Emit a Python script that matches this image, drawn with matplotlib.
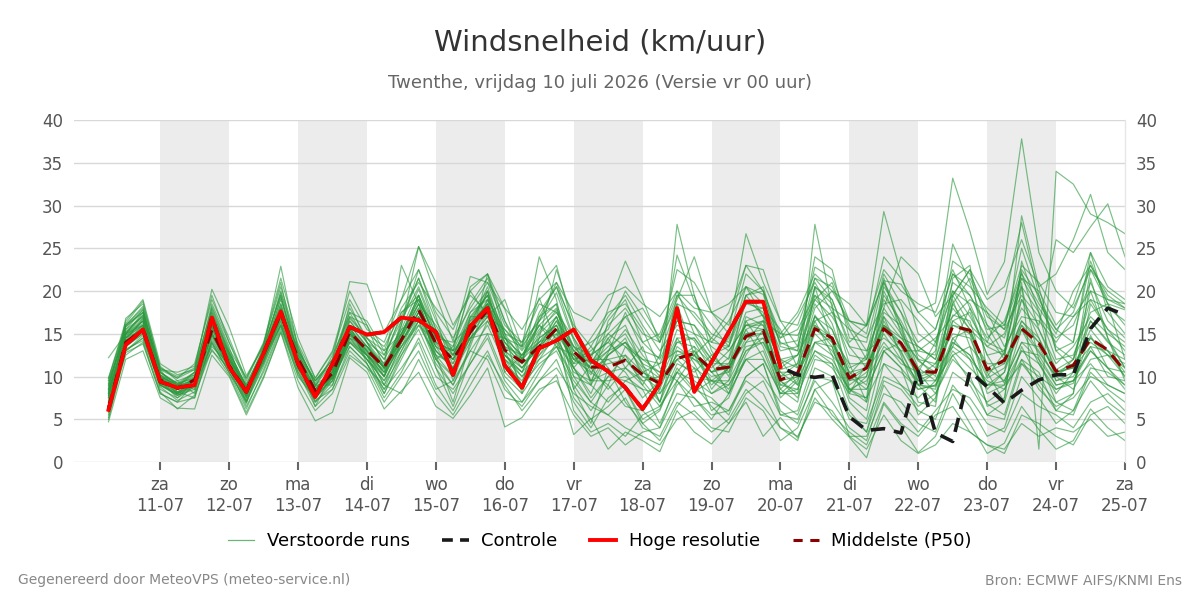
import matplotlib
matplotlib.use("Agg")
import matplotlib.pyplot as plt
import pandas as pd
from matplotlib.lines import Line2D

# ---------------- data ----------------
start_time = "2026-07-10 06:00"
n_points = 60
day_names = ["za", "zo", "ma", "di", "wo", "do", "vr", "za", "zo", "ma", "di", "wo", "do", "vr", "za"]
day_dates = ["11-07", "12-07", "13-07", "14-07", "15-07", "16-07", "17-07", "18-07",
             "19-07", "20-07", "21-07", "22-07", "23-07", "24-07", "25-07"]
shaded_days = ["2026-07-11", "2026-07-13", "2026-07-15", "2026-07-17",
               "2026-07-19", "2026-07-21", "2026-07-23"]

hoge_resolutie = [6.1, 13.7, 15.5, 9.4, 8.7, 9.0, 16.9, 11.1, 8.2, 12.7, 17.6, 11.5, 7.6, 11.5,
                  15.8, 14.9, 15.2, 16.9, 16.6, 15.2, 10.2, 15.9, 18.0, 11.3, 8.7, 13.3, 14.2,
                  15.5, 11.9, 10.6, 8.7, 6.2, 9.2, 18.0, 8.2, 11.7, 15.2, 18.75, 18.75, 11.1]

controle = [6.1, 13.7, 15.5, 9.4, 8.7, 9.0, 16.9, 11.1, 8.2, 12.7, 17.6, 11.5, 7.6, 11.5,
            15.8, 14.9, 15.2, 16.9, 16.6, 15.2, 10.2, 15.9, 18.0, 11.3, 8.7, 13.3, 14.2,
            15.5, 11.9, 10.6, 8.7, 6.2, 9.2, 18.0, 8.2, 11.7, 15.2, 18.75, 18.75, 11.1,
            10.2, 9.9, 10.2, 5.3, 3.7, 3.9, 3.4, 10.6, 3.4, 2.4, 10.6, 8.8, 6.9, 8.4,
            9.6, 10.2, 10.2, 15.6, 18.0, 17.2]

p50 = [6.3, 14.0, 15.5, 9.6, 8.6, 9.6, 15.4, 11.3, 8.3, 12.7, 17.4, 12.1, 8.3, 10.4, 15.2,
       13.1, 11.1, 14.3, 17.8, 13.9, 12.0, 15.2, 17.8, 13.1, 11.7, 13.5, 15.6, 12.9, 11.1,
       11.1, 11.9, 10.2, 9.2, 12.1, 12.7, 10.8, 11.1, 14.7, 15.4, 9.6, 10.4, 15.6, 14.5,
       9.8, 11.0, 15.6, 13.9, 10.6, 10.5, 15.9, 15.4, 10.8, 11.9, 15.6, 13.9, 10.6, 11.3,
       14.4, 13.1, 10.6]

m01 = [9.8, 16.5, 19.0, 11.5, 10.2, 10.8, 20.2, 15.8, 10.1, 13.5, 22.9, 13.2, 9.2, 12.0, 21.1,
       20.8, 15.2, 19.0, 25.2, 19.5, 14.1, 21.7, 21.0, 17.9, 12.0, 16.5, 19.8, 14.2, 9.5, 12.8, 17.5,
       13.0, 12.2, 24.2, 18.8, 16.0, 13.5, 20.5, 19.6, 13.8, 14.2, 22.8, 21.5, 16.5, 15.9, 21.2, 20.8,
       17.5, 18.6, 33.2, 27.0, 19.6, 23.4, 37.8, 24.5, 20.0, 18.0, 22.5, 20.0, 18.5]
m02 = [4.7, 12.0, 13.0, 7.5, 6.3, 6.2, 12.5, 10.0, 5.5, 9.8, 15.2, 8.7, 4.8, 5.8, 12.2,
       10.5, 6.2, 8.3, 10.5, 6.5, 5.1, 7.8, 11.0, 4.1, 5.2, 8.0, 10.2, 3.2, 5.1, 1.5, 3.5,
       2.5, 1.2, 6.0, 3.5, 2.1, 4.5, 7.0, 3.0, 5.2, 2.8, 7.5, 5.0, 2.9, 0.5, 6.8, 4.2,
       1.1, 3.0, 8.0, 4.5, 1.0, 2.2, 6.5, 3.8, 1.5, 2.5, 6.2, 4.0, 2.5]
m03 = [8.5, 15.2, 17.2, 10.5, 9.0, 10.2, 17.5, 13.0, 8.8, 12.5, 19.2, 12.8, 8.5, 11.0, 16.8,
       14.5, 12.0, 15.5, 20.2, 15.0, 11.5, 16.8, 19.5, 14.0, 11.8, 15.2, 17.8, 12.5, 10.2, 14.5, 16.0,
       11.2, 9.8, 15.5, 14.2, 10.5, 12.2, 18.8, 17.5, 10.8, 11.5, 19.5, 16.2, 10.2, 12.5, 21.5, 15.0,
       11.8, 10.5, 17.2, 16.5, 10.0, 12.8, 22.2, 15.5, 10.8, 12.0, 16.5, 14.2, 11.0]
m04 = [7.0, 13.0, 14.5, 9.0, 7.8, 8.5, 14.0, 10.5, 7.2, 11.8, 16.5, 10.8, 7.0, 9.5, 14.0,
       12.0, 9.5, 13.0, 17.0, 12.0, 13.5, 18.5, 21.5, 16.5, 13.2, 17.0, 20.5, 16.0, 13.5, 11.0, 8.5,
       5.0, 6.2, 10.5, 8.2, 9.5, 11.0, 15.5, 12.2, 8.0, 9.8, 17.2, 14.0, 8.2, 10.0, 16.5, 12.8,
       9.0, 8.8, 13.5, 18.0, 12.5, 9.2, 13.0, 11.5, 8.5, 9.2, 14.8, 11.0, 8.5]
m05 = [6.0, 14.0, 16.0, 9.5, 8.5, 9.0, 15.0, 11.5, 8.0, 12.8, 17.8, 11.0, 8.0, 10.0, 15.5,
       13.0, 10.5, 14.5, 18.5, 13.8, 12.0, 15.5, 18.0, 12.5, 10.0, 13.0, 16.5, 13.5, 11.0, 8.5, 11.0,
       13.5, 8.0, 12.0, 13.5, 11.5, 8.0, 14.0, 16.5, 9.0, 10.0, 15.0, 13.0, 9.5, 11.0, 16.0, 13.5,
       10.0, 11.5, 15.0, 14.5, 9.8, 11.0, 15.5, 12.8, 10.0, 11.5, 14.0, 12.5, 10.0]
m06 = [5.5, 16.8, 18.5, 11.0, 9.8, 11.5, 19.0, 14.5, 9.5, 13.8, 21.0, 12.0, 6.5, 10.5, 18.5,
       14.0, 11.0, 16.0, 22.5, 17.0, 10.5, 14.0, 22.0, 15.0, 8.0, 14.5, 22.5, 16.5, 9.0, 16.5, 19.0,
       14.0, 15.0, 20.0, 15.0, 12.0, 14.5, 22.0, 20.0, 12.0, 9.0, 27.8, 18.0, 11.5, 7.0, 20.0, 16.0,
       11.0, 13.0, 25.5, 21.0, 15.0, 12.0, 28.8, 20.5, 13.0, 14.0, 24.5, 17.5, 15.0]
m07 = [9.2, 15.5, 17.8, 10.0, 8.0, 9.8, 16.2, 12.0, 9.0, 12.0, 18.0, 12.5, 9.5, 11.5, 16.0,
       15.0, 13.5, 17.5, 19.0, 14.5, 14.0, 16.0, 18.5, 14.5, 13.5, 19.2, 14.0, 11.0, 7.5, 10.0, 9.5,
       8.5, 4.5, 9.0, 11.0, 6.0, 7.5, 12.5, 15.5, 7.5, 9.5, 14.0, 12.5, 7.0, 5.0, 13.0, 11.0,
       5.5, 7.5, 14.5, 12.0, 6.8, 5.5, 12.0, 10.5, 6.0, 8.0, 18.5, 15.5, 14.0]
m08 = [7.8, 14.5, 16.5, 9.0, 9.5, 8.0, 15.8, 11.0, 6.8, 13.0, 17.0, 13.5, 9.0, 9.0, 14.5,
       12.5, 8.0, 12.0, 16.0, 12.5, 10.0, 17.0, 19.5, 10.5, 12.5, 14.0, 17.0, 12.0, 12.5, 14.0, 12.0,
       9.5, 7.0, 11.5, 10.5, 12.5, 10.5, 16.5, 17.2, 12.0, 12.5, 16.5, 17.5, 12.5, 12.0, 19.0, 15.5,
       10.5, 14.0, 20.0, 17.0, 13.5, 15.0, 20.5, 17.5, 12.0, 12.5, 17.5, 18.5, 17.8]
m09 = [8.2, 13.5, 15.0, 8.5, 7.5, 9.5, 13.5, 11.5, 7.8, 12.0, 16.0, 10.0, 7.5, 9.8, 13.5,
       11.5, 7.5, 10.5, 14.5, 10.0, 8.5, 11.5, 14.5, 9.5, 7.0, 10.5, 14.0, 7.5, 5.0, 6.5, 8.5,
       4.5, 2.5, 6.5, 9.0, 6.5, 4.5, 8.0, 9.5, 5.5, 5.0, 9.5, 7.0, 4.0, 2.5, 9.0, 6.0,
       3.5, 6.0, 8.5, 7.5, 4.5, 3.5, 8.0, 6.5, 5.5, 4.0, 7.0, 8.0, 6.0]
m10 = [9.5, 15.0, 16.0, 10.2, 8.8, 10.5, 16.5, 12.5, 8.5, 13.0, 18.5, 11.5, 7.8, 10.5, 16.0,
       13.5, 11.5, 14.0, 17.5, 13.0, 11.0, 15.8, 20.0, 13.5, 12.5, 14.5, 16.0, 11.5, 14.5, 17.5, 18.5,
       15.5, 11.0, 9.5, 12.5, 14.5, 13.0, 16.0, 16.5, 15.0, 14.8, 19.0, 17.0, 13.5, 13.0, 14.5, 13.0,
       13.0, 14.5, 17.0, 19.0, 17.5, 13.5, 17.0, 16.5, 14.0, 17.0, 19.0, 18.0, 16.5]
m11 = [6.8, 13.8, 15.8, 10.8, 8.2, 7.5, 14.5, 10.8, 8.0, 12.2, 16.8, 12.5, 7.0, 9.0, 15.0,
       12.8, 10.0, 16.0, 25.2, 21.0, 16.0, 19.5, 17.5, 12.0, 10.0, 12.0, 13.5, 10.0, 7.0, 10.0, 12.5,
       9.0, 6.5, 10.5, 13.0, 9.5, 9.0, 13.0, 14.5, 9.5, 10.0, 16.5, 12.5, 10.0, 8.5, 13.0, 14.0,
       11.0, 9.5, 14.0, 12.5, 9.0, 10.5, 16.0, 13.0, 10.0, 8.5, 12.0, 12.5, 11.5]
m12 = [8.8, 16.0, 18.0, 10.5, 9.2, 8.5, 18.2, 13.5, 7.5, 13.5, 19.5, 11.2, 8.8, 12.5, 17.0,
       16.0, 12.5, 17.0, 21.5, 16.5, 13.0, 20.5, 22.0, 16.5, 12.0, 17.5, 20.5, 14.5, 11.5, 13.0, 15.5,
       12.5, 10.0, 19.5, 19.5, 14.0, 13.5, 19.5, 20.5, 13.5, 13.0, 24.0, 22.5, 14.5, 14.0, 22.0, 18.5,
       13.0, 12.5, 23.5, 22.0, 17.5, 15.5, 25.0, 19.0, 15.5, 14.0, 23.5, 18.5, 16.0]
m13 = [7.2, 14.2, 16.8, 9.8, 8.0, 10.0, 16.0, 11.8, 8.2, 11.5, 17.2, 12.0, 8.0, 10.8, 15.8,
       12.5, 9.0, 14.0, 18.0, 12.5, 7.0, 14.0, 17.5, 10.5, 8.5, 12.0, 15.0, 6.0, 3.5, 4.5, 3.0,
       5.5, 6.5, 9.5, 7.5, 5.0, 8.0, 12.0, 10.0, 7.0, 5.5, 11.0, 10.0, 5.0, 4.5, 10.0, 9.0,
       6.5, 8.0, 12.0, 10.0, 5.5, 7.0, 13.5, 9.5, 7.0, 6.0, 11.0, 10.5, 9.0]
m14 = [6.5, 15.8, 17.5, 11.0, 10.0, 11.0, 17.8, 12.8, 9.0, 13.2, 19.8, 13.0, 9.5, 12.0, 18.0,
       14.5, 13.0, 15.0, 19.5, 14.0, 13.0, 17.5, 19.0, 15.5, 13.5, 16.5, 18.5, 13.0, 14.0, 15.5, 20.0,
       17.0, 14.0, 22.5, 21.0, 17.5, 16.0, 23.0, 22.5, 16.5, 16.0, 21.5, 20.5, 16.0, 13.0, 18.0, 24.0,
       22.0, 17.0, 19.5, 22.5, 19.0, 20.5, 26.0, 20.5, 22.0, 26.0, 31.3, 24.5, 22.5]
m15 = [6.2, 12.5, 14.0, 8.0, 7.0, 9.2, 13.0, 11.0, 6.5, 10.5, 15.5, 10.2, 7.2, 8.5, 13.0,
       11.0, 9.0, 12.5, 16.5, 11.5, 9.0, 13.0, 16.0, 11.5, 9.5, 13.5, 16.5, 12.0, 10.5, 9.0, 6.5,
       6.0, 8.5, 13.5, 12.0, 10.0, 10.5, 14.5, 15.0, 9.0, 8.5, 15.5, 14.5, 9.0, 10.5, 14.0, 11.5,
       10.5, 8.0, 12.5, 13.5, 11.0, 9.5, 14.0, 13.5, 9.5, 10.0, 13.0, 11.0, 10.5]
m16 = [8.0, 14.8, 16.2, 9.2, 8.8, 9.8, 15.2, 11.2, 8.5, 12.5, 17.5, 11.8, 8.5, 10.0, 15.2,
       13.2, 11.0, 14.8, 19.0, 14.5, 11.0, 15.0, 18.5, 12.5, 11.0, 13.5, 17.0, 13.0, 11.5, 13.5, 15.0,
       11.5, 10.5, 14.5, 14.5, 12.0, 11.0, 15.5, 16.5, 11.5, 12.5, 18.5, 15.5, 10.5, 9.0, 17.5, 16.0,
       13.5, 12.0, 19.5, 16.0, 14.0, 19.0, 28.0, 19.5, 13.0, 11.0, 15.5, 13.0, 12.0]
m17 = [5.0, 13.2, 14.2, 8.2, 6.2, 7.8, 13.2, 10.2, 5.8, 10.0, 15.2, 9.5, 6.0, 8.0, 12.5,
       11.0, 7.0, 10.0, 13.0, 8.5, 9.5, 13.0, 12.0, 7.5, 7.0, 9.5, 11.0, 8.0, 6.5, 5.5, 4.0,
       3.0, 2.0, 5.0, 6.0, 4.0, 3.5, 7.5, 6.0, 2.5, 4.0, 8.5, 5.5, 3.5, 2.0, 7.0, 4.5,
       3.0, 5.5, 6.5, 3.5, 2.0, 1.0, 5.5, 4.5, 3.0, 2.0, 5.5, 6.5, 4.5]
m18 = [9.0, 15.2, 17.0, 10.0, 9.0, 10.0, 17.0, 12.5, 8.0, 12.8, 18.2, 12.0, 8.2, 11.0, 16.5,
       14.0, 12.5, 16.5, 20.5, 15.5, 13.0, 15.5, 19.0, 15.0, 14.0, 18.5, 17.5, 14.5, 10.5, 12.5, 14.0,
       10.5, 11.5, 16.5, 16.0, 13.5, 12.0, 17.5, 18.0, 15.5, 11.0, 18.0, 20.0, 18.5, 16.0, 21.0, 17.5,
       14.0, 15.5, 22.0, 19.5, 16.0, 14.5, 21.5, 18.0, 15.0, 20.0, 23.0, 19.5, 18.0]
m19 = [7.5, 14.0, 15.2, 9.5, 7.5, 8.8, 14.8, 11.5, 7.0, 11.2, 16.2, 11.5, 7.5, 9.8, 14.8,
       13.5, 11.2, 23.0, 18.5, 16.0, 12.5, 17.0, 17.0, 19.0, 13.5, 24.0, 19.0, 10.0, 9.0, 12.5, 14.5,
       10.0, 8.5, 27.8, 19.5, 13.0, 10.0, 17.0, 16.0, 10.0, 11.5, 20.5, 14.0, 9.5, 10.0, 18.0, 15.0,
       9.5, 10.5, 18.5, 15.5, 8.5, 10.5, 19.0, 14.5, 10.0, 12.0, 20.0, 14.5, 11.0]
m20 = [8.2, 15.0, 16.5, 9.5, 8.5, 9.5, 15.8, 12.0, 8.8, 13.2, 17.8, 11.0, 8.0, 10.5, 15.5,
       12.0, 10.0, 14.5, 19.5, 11.0, 6.5, 12.0, 16.5, 13.0, 9.0, 12.5, 15.5, 8.5, 4.5, 11.0, 7.0,
       4.5, 6.0, 11.0, 8.5, 7.5, 5.5, 10.0, 11.5, 5.5, 6.0, 12.0, 11.5, 6.0, 3.5, 11.5, 9.0,
       7.5, 9.5, 12.5, 9.5, 7.0, 8.5, 12.0, 8.5, 6.5, 7.5, 10.0, 9.0, 8.0]
m21 = [9.8, 16.0, 17.5, 10.8, 9.8, 10.8, 18.0, 13.2, 9.8, 13.8, 20.5, 13.8, 9.8, 12.8, 19.0,
       15.5, 14.0, 19.0, 22.5, 17.5, 14.5, 18.0, 21.0, 16.0, 14.0, 16.5, 21.0, 15.5, 12.5, 16.0, 18.0,
       15.0, 14.0, 18.5, 17.5, 15.0, 14.0, 19.5, 20.0, 14.5, 17.0, 21.0, 17.5, 15.5, 14.5, 18.5, 19.0,
       16.5, 14.0, 21.0, 19.5, 15.5, 16.0, 23.0, 21.0, 17.5, 17.0, 20.0, 19.0, 18.5]
m22 = [7.0, 13.5, 15.0, 9.0, 8.0, 9.0, 14.8, 11.0, 7.5, 12.0, 16.5, 11.0, 7.5, 9.5, 14.0,
       12.0, 9.5, 13.5, 17.5, 13.5, 10.5, 14.5, 17.0, 12.0, 10.5, 14.5, 16.0, 11.0, 8.0, 12.5, 14.0,
       11.5, 7.0, 13.0, 12.5, 10.5, 8.5, 13.0, 14.0, 9.5, 7.5, 14.0, 14.5, 8.5, 7.0, 15.5, 13.0,
       9.0, 8.5, 16.5, 15.0, 8.0, 9.0, 15.5, 11.5, 8.0, 10.5, 16.5, 14.0, 12.5]
m23 = [6.5, 14.5, 16.0, 10.0, 9.0, 9.5, 16.8, 12.2, 8.2, 12.2, 17.5, 12.2, 8.8, 10.0, 15.0,
       13.0, 10.5, 15.5, 17.0, 13.5, 12.5, 16.5, 18.0, 13.5, 11.5, 13.0, 15.5, 11.5, 12.0, 12.0, 10.5,
       7.5, 9.5, 14.0, 13.5, 8.5, 11.0, 15.0, 15.5, 8.5, 10.5, 14.0, 13.5, 8.0, 11.5, 15.0, 12.0,
       9.5, 9.5, 14.5, 15.5, 10.5, 11.5, 16.5, 14.0, 10.5, 11.0, 13.5, 10.0, 9.5]
m24 = [8.0, 14.5, 15.5, 9.8, 8.2, 9.5, 15.5, 11.8, 7.8, 12.0, 17.0, 11.5, 8.0, 10.2, 15.0,
       13.0, 9.0, 8.0, 12.0, 8.0, 5.5, 9.0, 12.5, 9.0, 6.0, 8.5, 9.5, 5.5, 3.0, 4.0, 2.0,
       3.5, 4.0, 9.5, 6.5, 7.0, 6.0, 9.5, 8.0, 4.0, 2.5, 8.5, 9.5, 3.0, 3.0, 8.0, 7.0,
       4.5, 3.5, 9.0, 6.5, 3.0, 4.0, 10.0, 7.5, 4.5, 6.0, 9.5, 7.0, 5.5]
m25 = [7.5, 15.5, 17.0, 10.2, 8.5, 9.8, 16.5, 12.2, 8.5, 12.5, 18.5, 12.8, 9.0, 10.5, 16.5,
       14.0, 11.5, 15.0, 19.5, 14.5, 12.0, 17.5, 20.0, 15.0, 12.0, 16.0, 18.0, 13.5, 12.5, 14.0, 17.0,
       18.0, 14.5, 19.5, 17.0, 14.5, 17.5, 23.0, 20.0, 15.0, 17.5, 22.0, 20.0, 16.5, 15.0, 24.0, 21.5,
       17.5, 15.5, 22.0, 20.5, 18.0, 16.0, 21.5, 20.0, 16.0, 18.5, 24.5, 20.5, 19.0]
m26 = [8.5, 14.2, 15.8, 9.2, 7.8, 9.0, 15.0, 11.2, 7.8, 12.5, 17.0, 12.0, 8.0, 9.5, 15.2,
       12.5, 10.8, 14.5, 18.0, 12.5, 11.5, 15.0, 17.5, 14.0, 12.0, 14.0, 15.0, 12.0, 13.0, 15.0, 13.5,
       12.0, 11.5, 13.0, 12.0, 11.0, 13.0, 16.0, 15.5, 11.0, 12.5, 17.0, 15.5, 11.0, 12.0, 17.0, 14.5,
       12.0, 11.5, 16.5, 17.5, 12.5, 13.0, 18.0, 15.5, 11.5, 13.5, 17.0, 15.0, 13.5]
m27 = [12.2, 15.0, 17.2, 10.5, 9.2, 10.5, 16.0, 12.8, 8.8, 11.8, 17.0, 11.8, 8.5, 9.8, 14.5,
       13.5, 11.0, 13.5, 16.5, 15.5, 12.5, 16.0, 18.5, 12.5, 10.5, 15.0, 17.0, 11.0, 9.0, 7.0, 9.5,
       10.5, 9.0, 12.5, 11.0, 9.5, 9.5, 13.5, 14.0, 10.5, 9.0, 13.0, 12.0, 8.5, 9.5, 13.5, 12.0,
       9.0, 10.5, 13.5, 12.0, 9.5, 8.5, 13.0, 12.5, 9.0, 9.5, 13.5, 13.0, 10.0]
m28 = [5.8, 13.0, 14.8, 8.8, 7.2, 8.2, 14.0, 10.5, 7.0, 11.5, 16.0, 11.0, 7.8, 10.8, 14.2,
       12.5, 10.5, 13.5, 16.0, 14.0, 13.0, 14.5, 15.0, 14.5, 12.5, 16.0, 13.5, 12.5, 9.5, 10.5, 11.0,
       9.5, 10.0, 12.0, 10.0, 9.5, 8.0, 12.0, 13.0, 8.0, 8.0, 12.5, 11.0, 8.0, 7.5, 11.5, 10.5,
       8.5, 9.0, 13.0, 11.0, 9.0, 9.0, 11.5, 10.0, 8.5, 9.5, 11.5, 9.0, 8.0]
m29 = [7.8, 15.0, 16.8, 10.0, 8.5, 9.5, 16.2, 12.0, 8.0, 12.5, 17.5, 12.0, 8.5, 10.5, 15.5,
       13.5, 11.0, 15.0, 18.5, 14.0, 12.0, 16.0, 18.5, 14.0, 11.0, 14.0, 16.0, 12.5, 11.0, 13.0, 14.0,
       12.0, 10.5, 14.0, 14.5, 11.5, 11.5, 16.0, 16.0, 12.0, 11.0, 17.0, 14.5, 11.5, 11.5, 16.0, 14.5,
       13.5, 12.0, 18.0, 15.5, 13.5, 12.5, 19.0, 16.0, 26.0, 24.5, 27.5, 30.2, 24.0]
m30 = [6.0, 13.0, 14.5, 9.0, 8.0, 9.0, 14.2, 11.0, 8.0, 12.0, 16.0, 10.5, 7.5, 10.0, 14.0,
       12.5, 10.0, 14.0, 17.5, 13.0, 11.0, 14.5, 17.0, 13.0, 11.0, 13.5, 15.5, 12.0, 11.0, 12.0, 12.5,
       10.5, 9.5, 12.5, 13.0, 10.5, 11.0, 14.0, 14.5, 10.5, 10.5, 15.5, 14.0, 10.5, 11.0, 15.5, 14.0,
       10.0, 10.5, 16.0, 15.0, 11.5, 11.5, 16.5, 14.5, 10.5, 11.5, 14.5, 12.5, 11.0]
m31 = [8.0, 14.5, 16.5, 10.0, 9.0, 9.0, 15.5, 12.0, 8.5, 12.5, 18.0, 12.5, 8.5, 10.5, 16.0,
       13.5, 11.0, 15.0, 19.0, 14.5, 12.5, 16.5, 19.5, 14.5, 12.5, 15.5, 17.5, 13.5, 11.5, 15.0, 17.0,
       14.0, 12.0, 16.5, 16.0, 12.5, 13.5, 18.5, 18.0, 13.0, 13.5, 20.5, 19.0, 14.0, 16.0, 29.3, 22.0,
       15.0, 13.5, 20.0, 18.5, 14.0, 13.0, 21.0, 1.5, 34.0, 32.5, 29.0, 28.0, 26.7]
m32 = [9.0, 16.0, 18.2, 11.2, 9.5, 10.2, 18.5, 14.0, 9.2, 13.0, 20.0, 13.5, 9.0, 11.5, 17.5,
       16.5, 13.0, 18.0, 21.0, 18.0, 15.5, 20.0, 17.0, 15.5, 13.0, 16.0, 14.5, 11.0, 13.5, 17.0, 19.5,
       16.0, 13.0, 16.0, 15.0, 14.0, 16.5, 20.5, 18.5, 14.0, 13.0, 19.0, 21.0, 15.5, 12.0, 19.5, 16.5,
       12.5, 11.0, 18.5, 21.5, 17.0, 15.5, 19.5, 17.0, 14.5, 16.0, 21.0, 16.5, 14.5]
m33 = [6.8, 14.8, 16.5, 9.0, 7.8, 8.8, 15.8, 11.5, 7.2, 11.8, 17.8, 11.2, 7.8, 11.0, 16.0,
       11.5, 8.5, 13.0, 16.5, 12.0, 9.0, 13.5, 19.0, 11.5, 9.0, 11.5, 13.0, 9.0, 6.0, 9.0, 13.5,
       11.0, 7.0, 14.5, 11.5, 8.0, 9.5, 16.5, 13.5, 8.5, 7.0, 16.0, 13.5, 7.5, 6.0, 17.0, 12.5,
       7.0, 6.5, 19.0, 13.5, 6.5, 7.5, 20.5, 12.0, 7.0, 8.0, 21.5, 14.5, 9.5]
m34 = [8.6, 15.8, 17.8, 10.2, 9.2, 9.8, 17.2, 12.8, 8.8, 13.5, 19.5, 12.2, 8.0, 11.5, 17.0,
       14.5, 12.0, 17.5, 19.5, 15.0, 13.5, 20.0, 22.0, 18.0, 15.5, 19.0, 21.0, 17.5, 16.5, 19.5, 20.5,
       18.5, 17.0, 20.0, 18.0, 17.5, 18.5, 20.5, 17.0, 14.5, 15.5, 19.5, 18.0, 16.5, 16.0, 22.5, 20.0,
       18.5, 17.5, 22.5, 18.0, 14.5, 16.5, 22.0, 18.5, 15.5, 17.5, 23.0, 19.0, 18.0]
m35 = [7.6, 14.0, 15.5, 9.4, 8.0, 9.2, 15.0, 11.0, 7.6, 12.5, 17.0, 11.8, 8.2, 10.0, 14.5,
       12.0, 8.5, 11.0, 14.0, 9.0, 6.0, 10.0, 13.0, 8.5, 6.5, 9.5, 12.0, 7.0, 4.0, 7.5, 9.0,
       6.0, 4.0, 8.0, 7.5, 5.5, 6.0, 10.0, 11.5, 6.0, 4.5, 10.0, 9.5, 5.5, 3.5, 9.5, 8.5,
       6.0, 5.0, 10.5, 9.0, 5.5, 5.0, 11.5, 9.0, 6.0, 5.5, 10.5, 8.5, 7.0]
m36 = [9.5, 16.2, 18.8, 10.8, 10.5, 11.2, 19.5, 14.0, 9.8, 14.0, 21.5, 14.5, 9.8, 13.0, 20.0,
       16.0, 11.0, 14.5, 18.5, 12.0, 10.0, 16.0, 20.5, 14.5, 11.5, 20.5, 23.0, 15.5, 12.0, 18.0, 23.5,
       19.0, 14.0, 19.0, 24.0, 17.5, 15.0, 26.7, 21.0, 16.5, 13.5, 21.5, 19.0, 13.5, 11.0, 20.5, 17.5,
       12.0, 10.0, 19.5, 22.5, 16.0, 12.5, 22.5, 19.5, 13.5, 12.0, 19.0, 15.5, 13.0]
m37 = [5.2, 12.8, 13.8, 8.0, 7.0, 7.5, 13.8, 10.5, 6.2, 10.8, 15.8, 10.5, 6.5, 8.5, 13.5,
       11.5, 8.0, 12.5, 15.5, 11.0, 8.0, 11.5, 15.0, 10.0, 8.0, 11.0, 13.5, 9.5, 7.0, 5.5, 7.5,
       4.0, 3.0, 7.0, 5.5, 3.5, 5.0, 8.5, 6.5, 4.0, 3.0, 7.0, 6.0, 3.0, 1.5, 5.5, 2.5,
       1.0, 2.0, 4.5, 3.5, 2.0, 1.5, 4.5, 3.0, 4.0, 3.5, 5.0, 3.0, 3.5]
m38 = [8.4, 14.6, 16.0, 9.8, 8.8, 9.6, 16.0, 11.5, 8.5, 12.8, 17.5, 12.0, 8.5, 10.5, 15.2,
       13.0, 11.0, 14.0, 17.5, 13.5, 12.0, 15.5, 17.5, 13.0, 11.5, 13.5, 15.5, 13.0, 11.0, 11.5, 12.0,
       10.0, 9.5, 12.0, 12.5, 10.5, 11.5, 15.0, 15.0, 10.0, 10.5, 16.0, 14.5, 10.0, 11.0, 16.0, 14.0,
       10.5, 10.5, 16.0, 15.5, 11.0, 12.0, 16.0, 14.0, 10.5, 11.0, 14.5, 13.0, 10.5]
m39 = [7.0, 15.0, 17.5, 10.5, 9.0, 10.5, 17.5, 12.5, 8.5, 13.0, 19.0, 13.0, 9.5, 12.0, 17.5,
       14.0, 10.0, 16.5, 21.5, 15.5, 9.5, 15.0, 20.0, 12.0, 9.0, 17.0, 18.5, 8.5, 11.5, 14.5, 11.0,
       9.0, 12.5, 18.5, 12.5, 9.0, 11.0, 19.5, 17.0, 9.5, 8.0, 20.5, 18.5, 8.5, 7.5, 21.0, 16.0,
       9.0, 7.0, 21.5, 23.0, 10.5, 7.0, 23.5, 17.5, 9.5, 10.5, 22.5, 18.5, 12.0]
m40 = [6.6, 13.6, 15.2, 9.2, 8.2, 9.0, 15.0, 11.0, 8.0, 12.0, 16.8, 11.5, 8.0, 10.0, 14.8,
       12.5, 10.0, 14.0, 17.0, 13.0, 11.0, 14.5, 16.5, 12.5, 10.5, 12.5, 14.5, 10.5, 9.5, 9.5, 10.0,
       8.5, 8.0, 10.5, 9.5, 8.0, 9.0, 12.0, 12.0, 8.0, 8.5, 13.0, 11.5, 8.5, 8.5, 13.0, 11.0,
       8.5, 9.0, 14.0, 12.5, 9.0, 9.5, 14.0, 12.0, 9.0, 9.5, 13.0, 11.0, 9.0]

members = [m01, m02, m03, m04, m05, m06, m07, m08, m09, m10, m11, m12, m13, m14, m15, m16,
           m17, m18, m19, m20, m21, m22, m23, m24, m25, m26, m27, m28, m29, m30, m31, m32,
           m33, m34, m35, m36, m37, m38, m39, m40]

# ---------------- plot ----------------
times = pd.date_range(start_time, periods=n_points, freq="6h")
bad = [i for i, m in enumerate(members) if len(m) != n_points]
assert not bad and len(controle) == n_points and len(p50) == n_points, \
    f"bad lengths: {[(i + 1, len(members[i])) for i in bad]}, ctrl {len(controle)}, p50 {len(p50)}"

fig = plt.figure(figsize=(12, 6), dpi=100)
ax = fig.add_axes([0.0617, 0.23, 0.8758, 0.57])

for d in shaded_days:
    d0 = pd.Timestamp(d)
    ax.axvspan(d0, d0 + pd.Timedelta(days=1), color="#ececec", lw=0, zorder=0)

green = "#2a983c"
for m in members:
    ax.plot(times, m, color=green, lw=0.85, alpha=0.62, zorder=2)

ax.plot(times, p50, color="#8b0000", lw=2.2, ls=(0, (4.5, 2.7)), zorder=3)
ax.plot(times, controle, color="#1a1a1a", lw=2.6, ls=(0, (4, 2.5)), zorder=4)
ax.plot(times[:len(hoge_resolutie)], hoge_resolutie, color="#ff0000", lw=2.8, zorder=5)

ax.set_xlim(pd.Timestamp("2026-07-09 18:00"), pd.Timestamp("2026-07-25 00:00"))
ax.set_ylim(0, 40)
ax.set_yticks(range(0, 41, 5))
ax.grid(axis="y", color="#d8d8d8", lw=1)
ax.set_axisbelow(True)

tick_times = pd.date_range("2026-07-11", periods=len(day_dates), freq="D")
ax.set_xticks(tick_times)
ax.set_xticklabels([f"{n}\n{d}" for n, d in zip(day_names, day_dates)])
ax.tick_params(axis="x", length=6, width=1.5, color="#666666", labelcolor="#555555",
               labelsize=12, pad=4)
ax.tick_params(axis="y", length=0, labelcolor="#555555", labelsize=12, pad=8,
               labelleft=True, labelright=True)
for s in ["top", "left", "bottom"]:
    ax.spines[s].set_visible(False)
ax.spines["right"].set_color("#e6e6e6")
ax.spines["right"].set_linewidth(1)

handles = [
    Line2D([], [], color=green, lw=0.9, alpha=0.7),
    Line2D([], [], color="#1a1a1a", lw=2.6, ls=(0, (3, 2))),
    Line2D([], [], color="#ff0000", lw=2.8),
    Line2D([], [], color="#8b0000", lw=2.2, ls=(0, (3, 2.5))),
]
labels = ["Verstoorde runs", "Controle", "Hoge resolutie", "Middelste (P50)"]
fig.legend(handles, labels, loc="center", bbox_to_anchor=(0.5, 0.098), ncol=4,
           frameon=False, fontsize=13, handlelength=1.45, columnspacing=1.8, handletextpad=0.7)

fig.text(0.5, 0.93, "Windsnelheid (km/uur)", ha="center", va="center", fontsize=21, color="#333333")
fig.text(0.5, 0.861, "Twenthe, vrijdag 10 juli 2026 (Versie vr 00 uur)", ha="center", va="center",
         fontsize=13, color="#666666")
fig.text(0.015, 0.033, "Gegenereerd door MeteoVPS (meteo-service.nl)", ha="left", va="center",
         fontsize=10, color="#888888")
fig.text(0.985, 0.033, "Bron: ECMWF AIFS/KNMI Ens", ha="right", va="center",
         fontsize=10, color="#888888")

fig.savefig("out.png", dpi=100)
